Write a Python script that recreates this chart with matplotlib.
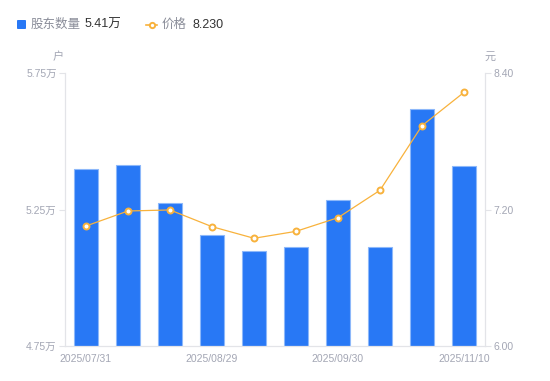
import matplotlib
matplotlib.use("Agg")
import matplotlib.pyplot as plt
import numpy as np

plt.rcParams['font.family'] = ['Liberation Sans', 'Noto Sans CJK SC', 'DejaVu Sans']

dates = ["2025/07/31", "2025/08/11", "2025/08/20", "2025/08/29", "2025/09/10",
         "2025/09/19", "2025/09/30", "2025/10/20", "2025/10/31", "2025/11/10"]
holders = [5.397, 5.412, 5.273, 5.157, 5.099, 5.112, 5.285, 5.113, 5.618, 5.41]  # 万户
prices = [7.055, 7.187, 7.196, 7.049, 6.947, 7.008, 7.128, 7.369, 7.937, 8.230]
left_ticks = [4.75, 5.25, 5.75]
right_ticks = [6.00, 7.20, 8.40]
shown_idx = [0, 3, 6, 9]

BLUE = "#2878F5"
EDGE = "#8DB8FA"
ORANGE = "#F8B23C"
GRAY_TXT = "#A3A6B4"
AXIS = "#E3E4E8"

fig = plt.figure(figsize=(5.5, 3.81), dpi=100)
ax = fig.add_axes([65/550, 1-346/381, (485-65)/550, (346-73)/381])
x = np.arange(len(dates))
ax.bar(x, holders, width=0.58, color=BLUE, edgecolor=EDGE, linewidth=0.8, zorder=2)
ax.set_xlim(-0.5, len(dates)-0.5)
ax.set_ylim(left_ticks[0], left_ticks[-1])
ax.set_yticks(left_ticks)
ax.set_yticklabels([f"{v:.2f}万" for v in left_ticks])
ax.set_xticks([x[i] for i in shown_idx])
ax.set_xticklabels([dates[i] for i in shown_idx])
ax.tick_params(axis='x', length=0, pad=6, labelsize=7.5, labelcolor=GRAY_TXT)
ax.tick_params(axis='y', length=4, width=0.8, color=AXIS, pad=2, labelsize=7.5, labelcolor=GRAY_TXT)
for s in ['top', 'right']:
    ax.spines[s].set_visible(False)
for s in ['left', 'bottom']:
    ax.spines[s].set_color(AXIS)
    ax.spines[s].set_linewidth(0.9)

ax2 = ax.twinx()
ax2.plot(x, prices, color=ORANGE, linewidth=0.9, marker='o', markersize=4.3,
         markerfacecolor='white', markeredgecolor=ORANGE, markeredgewidth=1.4, zorder=3)
ax2.set_ylim(right_ticks[0], right_ticks[-1])
ax2.set_yticks(right_ticks)
ax2.set_yticklabels([f"{v:.2f}" for v in right_ticks])
ax2.tick_params(axis='y', length=4, width=0.8, color=AXIS, pad=2, labelsize=7.5, labelcolor=GRAY_TXT)
for s in ['top', 'left', 'bottom']:
    ax2.spines[s].set_visible(False)
ax2.spines['right'].set_color(AXIS)
ax2.spines['right'].set_linewidth(0.9)

# unit labels
fig.text(58/550, 1-57/381, "户", ha='center', va='center', fontsize=8, color=GRAY_TXT)
fig.text(490/550, 1-57/381, "元", ha='center', va='center', fontsize=8, color=GRAY_TXT)

# legend
ly = 1-24.5/381
fig.patches.append(matplotlib.patches.FancyBboxPatch((17/550, 1-29/381), 9/550, 9/381,
                   boxstyle="round,pad=0,rounding_size=0.002", transform=fig.transFigure,
                   facecolor=BLUE, edgecolor='none'))
fig.text(30.5/550, ly, "股东数量", ha='left', va='center', fontsize=9, color="#8A8D99")
fig.text(85/550, ly, f"{holders[-1]:.2f}万", ha='left', va='center', fontsize=9, color="#333333")
fig.add_artist(matplotlib.lines.Line2D([146/550, 157/550], [ly, ly],
               color=ORANGE, linewidth=1.2, transform=fig.transFigure))
fig.add_artist(matplotlib.lines.Line2D([151.5/550], [ly], marker='o', markersize=3.8,
               markerfacecolor='white', markeredgecolor=ORANGE, markeredgewidth=1.4,
               transform=fig.transFigure))
fig.text(161.5/550, ly, "价格", ha='left', va='center', fontsize=9, color="#8A8D99")
fig.text(192/550, ly, f"{prices[-1]:.3f}", ha='left', va='center', fontsize=9, color="#333333")

fig.savefig("out.png", dpi=100)
